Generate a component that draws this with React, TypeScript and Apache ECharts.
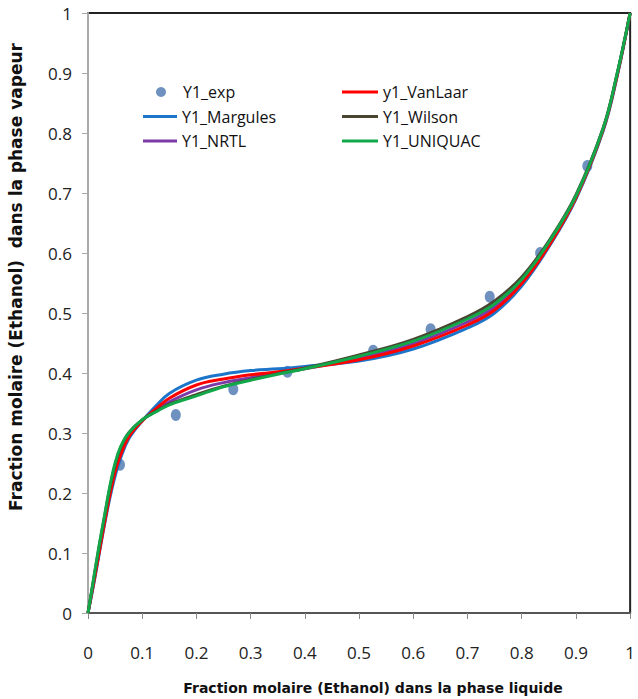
import React, { useEffect, useRef } from "react";
import * as echarts from "echarts";

const xs = [0, 0.01, 0.02, 0.03, 0.04, 0.05, 0.06, 0.075, 0.1, 0.125, 0.15, 0.2, 0.25, 0.3, 0.35, 0.4, 0.5, 0.6, 0.7, 0.75, 0.8, 0.85, 0.9, 0.95, 0.975, 1];

const expX = [0.059, 0.162, 0.268, 0.368, 0.526, 0.632, 0.741, 0.834, 0.921];
const expY = [0.247, 0.33, 0.373, 0.402, 0.437, 0.473, 0.527, 0.6, 0.745];

const margules = [0, 0.045, 0.095, 0.145, 0.19, 0.228, 0.258, 0.29, 0.32, 0.345, 0.366, 0.388, 0.398, 0.404, 0.407, 0.411, 0.42, 0.44, 0.475, 0.5, 0.545, 0.61, 0.69, 0.803, 0.89, 1];
const nrtl = [0, 0.05, 0.1, 0.152, 0.2, 0.24, 0.268, 0.296, 0.321, 0.337, 0.352, 0.372, 0.384, 0.392, 0.4, 0.407, 0.425, 0.449, 0.485, 0.51, 0.551, 0.614, 0.693, 0.806, 0.893, 1];
const vanlaar = [0, 0.048, 0.098, 0.148, 0.195, 0.235, 0.263, 0.293, 0.32, 0.34, 0.358, 0.38, 0.39, 0.397, 0.402, 0.408, 0.422, 0.445, 0.48, 0.505, 0.549, 0.612, 0.692, 0.805, 0.892, 1];
const wilson = [0, 0.054, 0.108, 0.158, 0.207, 0.247, 0.275, 0.3, 0.322, 0.336, 0.348, 0.364, 0.378, 0.389, 0.399, 0.408, 0.43, 0.456, 0.494, 0.52, 0.56, 0.62, 0.697, 0.808, 0.895, 1];
const uniquac = [0, 0.055, 0.11, 0.16, 0.21, 0.25, 0.277, 0.3, 0.322, 0.335, 0.347, 0.362, 0.377, 0.388, 0.398, 0.407, 0.428, 0.453, 0.49, 0.515, 0.556, 0.618, 0.695, 0.807, 0.895, 1];

const xTitle = "Fraction molaire (Ethanol) dans la phase liquide";
const yTitle = "Fraction molaire (Ethanol)  dans la phase vapeur";

const pairs = (ys: number[]) => xs.map((x, i) => [x, ys[i]]);

export default function App() {
  const ref = useRef<HTMLDivElement>(null);
  useEffect(() => {
    if (!ref.current) return;
    const chart = echarts.init(ref.current, undefined, { renderer: "svg" });
    const fmt = (v: number) => String(Math.round(v * 10) / 10);
    const lineSeries = (name: string, ys: number[], color: string) => ({
      name,
      type: "line",
      data: pairs(ys),
      smooth: 0.4,
      symbol: "none",
      lineStyle: { color, width: 3 },
      itemStyle: { color },
    });
    const legendText = { fontFamily: "Open Sans", fontSize: 16, color: "#111" };
    const titleFont = "DejaVu Sans";
    chart.setOption({
      animation: false,
      backgroundColor: "#fff",
      grid: {
        left: 88,
        right: 6,
        top: 13,
        bottom: 86,
        show: true,
        borderColor: "#222",
        borderWidth: 2,
      },
      legend: [
        {
          orient: "vertical",
          left: 156,
          top: 84,
          padding: 0,
          itemWidth: 34,
          itemHeight: 10,
          textStyle: legendText,
          data: [{ name: "Y1_exp", icon: "circle" }],
        },
        {
          orient: "vertical",
          left: 143,
          top: 108.5,
          padding: 0,
          itemWidth: 34,
          itemHeight: 3,
          itemGap: 8.5,
          textStyle: legendText,
          data: [
            { name: "Y1_Margules", icon: "rect" },
            { name: "Y1_NRTL", icon: "rect" },
          ],
        },
        {
          orient: "vertical",
          left: 342,
          top: 84,
          padding: 0,
          itemWidth: 36,
          itemHeight: 3,
          itemGap: 8.5,
          textStyle: legendText,
          data: [
            { name: "y1_VanLaar", icon: "rect" },
            { name: "Y1_Wilson", icon: "rect" },
            { name: "Y1_UNIQUAC", icon: "rect" },
          ],
        },
      ],
      graphic: [
        {
          type: "text",
          x: 373,
          y: 688,
          style: {
            text: xTitle,
            align: "center",
            verticalAlign: "middle",
            fontFamily: titleFont,
            fontWeight: "bold",
            fontSize: 14,
            fill: "#111",
          },
        },
        {
          type: "text",
          x: 16,
          y: 277,
          rotation: Math.PI / 2,
          style: {
            text: yTitle,
            align: "center",
            verticalAlign: "middle",
            fontFamily: titleFont,
            fontWeight: "bold",
            fontSize: 17,
            fill: "#111",
          },
        },
      ],
      xAxis: {
        type: "value",
        min: 0,
        max: 1,
        interval: 0.1,
        axisLine: { lineStyle: { color: "#555", width: 2 } },
        axisTick: { show: true, length: 6, lineStyle: { color: "#888" } },
        axisLabel: { margin: 31, formatter: fmt, fontFamily: "Open Sans", fontSize: 17, color: "#222" },
        splitLine: { show: false },
      },
      yAxis: {
        type: "value",
        min: 0,
        max: 1,
        interval: 0.1,
        axisLine: { lineStyle: { color: "#aaa", width: 2 } },
        axisTick: { show: true, length: 6, inside: false, lineStyle: { color: "#aaa" } },
        axisLabel: { margin: 16, formatter: fmt, fontFamily: "Open Sans", fontSize: 17, color: "#222" },
        splitLine: { show: false },
      },
      series: [
        {
          name: "Y1_exp",
          type: "scatter",
          data: expX.map((x, i) => [x, expY[i]]),
          symbol: "circle",
          symbolSize: [10, 12],
          itemStyle: { color: "#4a76b0" },
          z: 1,
        },
        lineSeries("Y1_Margules", margules, "#1c75c8"),
        lineSeries("Y1_NRTL", nrtl, "#7a3aa8"),
        lineSeries("y1_VanLaar", vanlaar, "#ff0000"),
        lineSeries("Y1_Wilson", wilson, "#4a4530"),
        lineSeries("Y1_UNIQUAC", uniquac, "#12a84a"),
      ],
    });
    return () => chart.dispose();
  }, []);
  return <div ref={ref} style={{ position: "fixed", left: 0, top: 0, width: 638, height: 699 }} />;
}
